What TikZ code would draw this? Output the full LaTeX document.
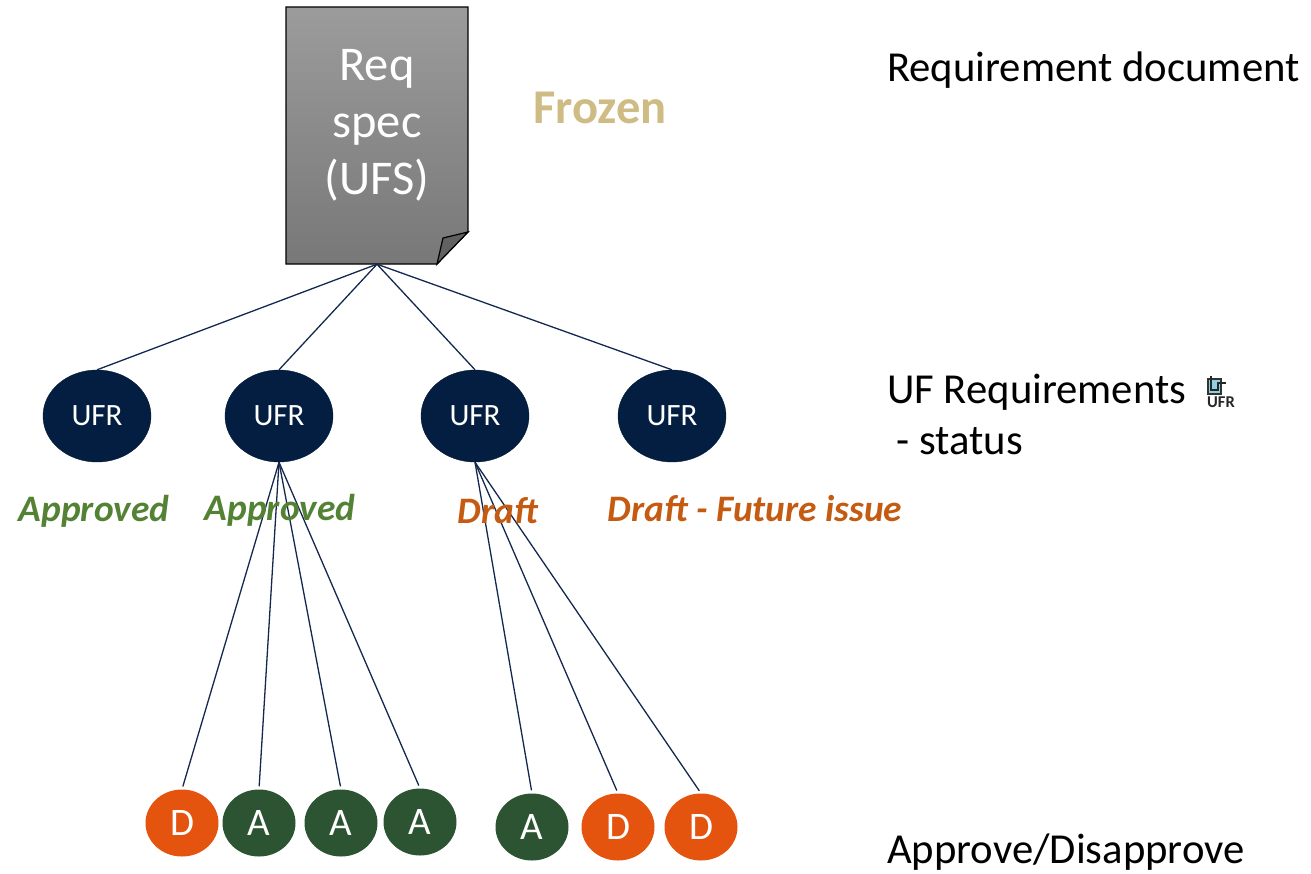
\documentclass[tikz,border=0pt]{standalone}
\usepackage{fontspec}
\setmainfont{Carlito}
\definecolor{navy}{HTML}{041E42}
\definecolor{lnavy}{HTML}{14284F}
\definecolor{dgreen}{HTML}{2C5433}
\definecolor{orng}{HTML}{E5540E}
\definecolor{tan}{HTML}{CFBC85}
\definecolor{lgreen}{HTML}{548235}
\definecolor{brn}{HTML}{C55A11}
\definecolor{icb}{HTML}{8FD0E0}
\tikzset{
 ufr/.style={ellipse,draw=navy!80!black,fill=navy,text=white,minimum width=108pt,minimum height=92pt,inner sep=0pt,font=\fontsize{31}{31}\selectfont},
 vote/.style={ellipse,fill=#1,text=white,minimum width=73pt,minimum height=67pt,inner sep=0pt,font=\fontsize{39}{39}\selectfont},
 link/.style={draw=lnavy,line width=1.3pt},
 vlink/.style={link,shorten >=3pt},
 lab/.style={inner sep=0pt,font=\fontsize{42.7}{43}\selectfont,text=black,anchor=base west},
 stat/.style={inner sep=0pt,font=\fontsize{37.4}{38}\selectfont\bfseries\itshape,anchor=base},
 doctext/.style={text=white,inner sep=0pt,anchor=base,font=\fontsize{48.5}{49}\selectfont},
}
\usetikzlibrary{shapes.geometric}
\begin{document}
\begin{tikzpicture}[x=1pt,y=-1pt]
\useasboundingbox (0,0) rectangle (1311,873);
% document
\path[shade,top color=black!39,bottom color=black!53,draw=black,line width=1.2pt]
 (286,7) -- (468,7) -- (468,232) -- (437,264) -- (286,264) -- cycle;
\path[fill=black!62,draw=black,line width=1.2pt] (437,264) -- (443,238) -- (468,232) -- cycle;
\node[inner sep=0pt,minimum width=182pt,minimum height=257pt] (doc) at (377,135.5) {};
\node[doctext] (t1) at (377,80) {Req};
\node[doctext] (t2) at (377,137) {spec};
\node[doctext] (t3) at (377,194) {(UFS)};
\node[inner sep=0pt,anchor=base,text=tan,font=\fontsize{48.5}{49}\selectfont\bfseries] (fz) at (600,123) {Frozen};
% UFRs
\node[ufr] (u1) at (97,416) {UFR};
\node[ufr] (u2) at (279,416) {UFR};
\node[ufr] (u3) at (475,416) {UFR};
\node[ufr] (u4) at (672,416) {UFR};
\foreach \u in {u1,u2,u3,u4} \draw[link] (doc.south) -- (\u.north);
% votes
\node[vote=orng] (d1) at (182,823) {D};
\node[vote=dgreen] (a1) at (259,823) {A};
\node[vote=dgreen] (a2) at (341,823) {A};
\node[vote=dgreen] (a3) at (420,822) {A};
\node[vote=dgreen] (a4) at (532,827) {A};
\node[vote=orng] (d2) at (618,827) {D};
\node[vote=orng] (d3) at (701,827) {D};
\foreach \v in {d1,a1,a2,a3} \draw[vlink] (u2.south) -- (\v.north);
\foreach \v in {a4,d2,d3} \draw[vlink] (u3.south) -- (\v.north);
% status
\node[stat,text=lgreen] (s1) at (94,521) {Approved};
\node[stat,text=lgreen] (s2) at (280,520) {Approved};
\node[stat,text=brn] (s3) at (498,523) {Draft};
\node[stat,text=brn] (s4) at (755,521) {Draft - Future issue};
% right labels
\node[lab] (r1) at (887,81) {Requirement document};
\node[lab] (r2) at (887,403) {UF Requirements};
\node[lab] (r3) at (887,454) {\ - status};
\node[lab] (r4) at (887,863) {Approve/Disapprove};
% icon
\fill[black!80] (1207,378) rectangle (1222,395);
\fill[icb] (1209,380) rectangle (1220,393);
\draw[black!85,line width=1.3pt] (1211,376) -- (1211,390) -- (1218,390) -- (1218,383) -- (1226,383);
\node[inner sep=0pt,anchor=base,font=\fontsize{16.5}{17}\selectfont\bfseries,text=black!85] (ic) at (1221,407) {UFR};
\end{tikzpicture}
\end{document}
